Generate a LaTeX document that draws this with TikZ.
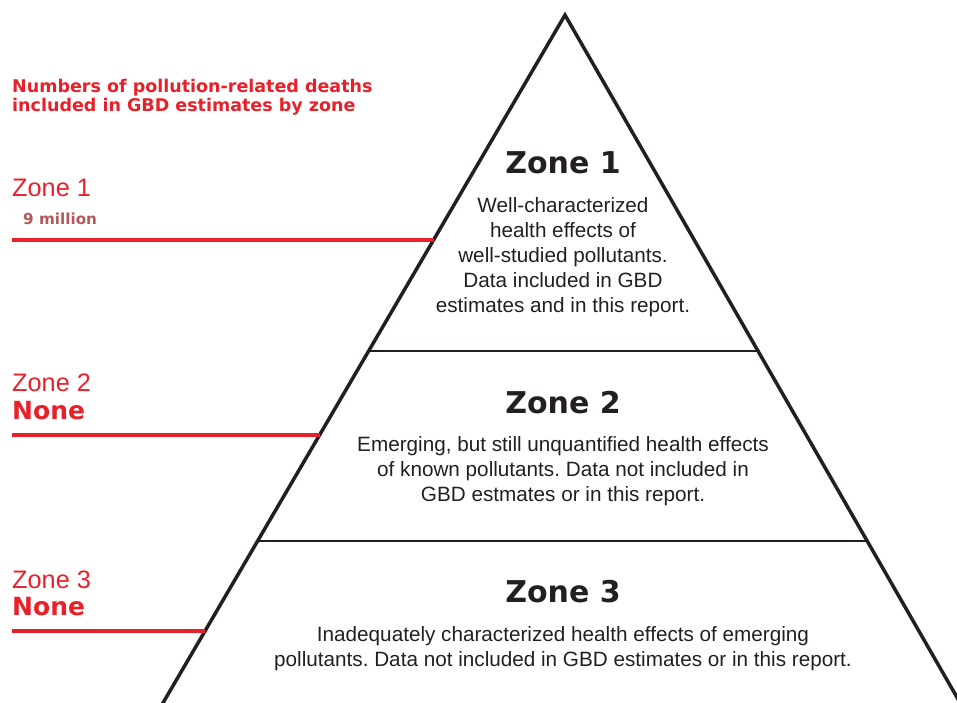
\documentclass[tikz,border=0pt]{standalone}
\usepackage{fontspec}
\setmainfont{Liberation Sans}
\newfontfamily\blackfont{DejaVu Sans}
\usetikzlibrary{calc}
\frenchspacing

\definecolor{zonered}{HTML}{E8202A}
\definecolor{millred}{HTML}{B5575A}
\definecolor{ink}{HTML}{231F20}

\tikzset{
	heading/.style={font=\blackfont\bfseries\fontsize{30}{36}\selectfont,text=ink,inner sep=0pt},
	body/.style={font=\fontsize{20.7}{25}\selectfont,text=ink,align=center,inner sep=0pt},
	zonelabel/.style={anchor=west,inner sep=0pt,text=zonered,font=\fontsize{25.3}{28}\selectfont},
	nonelabel/.style={anchor=west,inner sep=0pt,text=zonered,font=\blackfont\bfseries\fontsize{25}{28}\selectfont},
	redline/.style={draw=zonered,line width=3.5pt},
	side/.style={draw=ink,line width=3.5pt},
	divider/.style={draw=ink,line width=1.3pt}
}

\begin{document}
\begin{tikzpicture}[x=1pt,y=-1pt]
	\useasboundingbox (0,0) rectangle (957,702);
	\clip (0,0) rectangle (957,702);

	\coordinate (apex) at (565,15);
	\coordinate (bl) at (153,720);
	\coordinate (br) at (970,720);
	\draw[side] (bl) -- (apex) -- (br);

	\coordinate (d1l) at ($(apex)!0.4766!(bl)$);
	\coordinate (d1r) at ($(apex)!0.4766!(br)$);
	\coordinate (d2l) at ($(apex)!0.7461!(bl)$);
	\coordinate (d2r) at ($(apex)!0.7461!(br)$);
	\draw[divider] (d1l) -- (d1r);
	\draw[divider] (d2l) -- (d2r);

	\draw (12,97) node (title) [anchor=west,inner sep=0pt,align=left,text=zonered,
		font=\blackfont\bfseries\fontsize{17.5}{19.5}\selectfont]
		{Numbers of pollution-related deaths\\included in GBD estimates by zone};

	\draw (12,188) node (z1) [zonelabel] {Zone 1};
	\draw (23,219) node (z1n) [anchor=west,inner sep=0pt,text=millred,
		font=\blackfont\bfseries\fontsize{15.2}{18}\selectfont] {9 million};
	\coordinate (r1) at (12,240);
	\coordinate (e1) at ($(apex)!0.3191!(bl)$);
	\draw[redline] (r1) -- (e1 |- r1);

	\draw (12,383) node (z2) [zonelabel] {Zone 2};
	\draw (12,411) node (z2n) [nonelabel] {None};
	\coordinate (r2) at (12,435);
	\coordinate (e2) at ($(apex)!0.5957!(bl)$);
	\draw[redline] (r2) -- (e2 |- r2);

	\draw (12,580) node (z3) [zonelabel] {Zone 3};
	\draw (12,607) node (z3n) [nonelabel] {None};
	\coordinate (r3) at (12,631);
	\coordinate (e3) at ($(apex)!0.8738!(bl)$);
	\draw[redline] (r3) -- (e3 |- r3);

	\draw (563,163) node (h1) [heading] {Zone 1};
	\draw (563,257) node (b1) [body] {Well-characterized\\health effects of\\well-studied pollutants.\\Data included in GBD\\estimates and in this report.};
	\draw (563,403) node (h2) [heading] {Zone 2};
	\draw (563,471) node (b2) [body] {Emerging, but still unquantified health effects\\of known pollutants. Data not included in\\GBD estmates or in this report.};
	\draw (563,592) node (h3) [heading] {Zone 3};
	\draw (563,649) node (b3) [body] {Inadequately characterized health effects of emerging\\pollutants. Data not included in GBD estimates or in this report.};
\end{tikzpicture}
\end{document}
